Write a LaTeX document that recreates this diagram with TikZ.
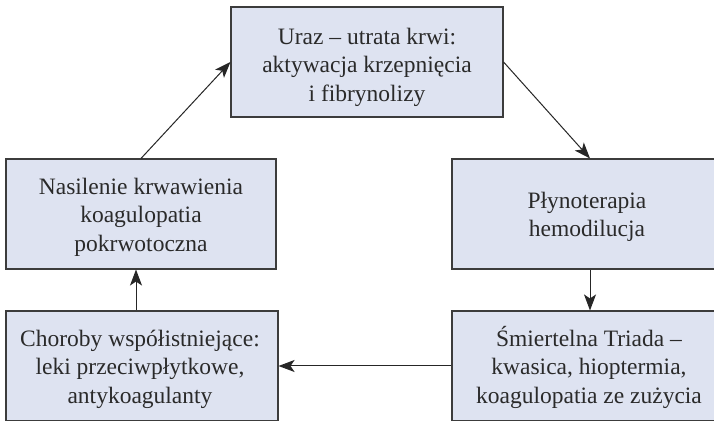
\documentclass[tikz,border=0pt]{standalone}
\usepackage{fontspec}
\setmainfont{Liberation Serif}
\usetikzlibrary{arrows.meta}
\definecolor{boxfill}{HTML}{DEE3F1}
\definecolor{boxline}{HTML}{3C3C3C}
\definecolor{txt}{HTML}{2A2A2A}
\tikzset{
  box/.style={draw=boxline, line width=1.1pt, fill=boxfill, minimum width=272pt, minimum height=110pt,
    inner sep=0pt},
  lbl/.style={inner sep=0pt, align=center, text=txt, font=\fontsize{23.5}{28.5}\selectfont},
  conn/.style={draw=black!85, line width=1pt, -{Stealth[length=16pt,width=12pt,inset=4pt]}}
}
\begin{document}
\begin{tikzpicture}[x=1pt,y=1pt]
\useasboundingbox (0,0) rectangle (714,420);
\clip (0,0) rectangle (714,420);
\fill[white] (0,0) rectangle (714,420);
\node[box] (top) at (367,358) {};
\node[box, minimum width=270pt] (leftmid) at (141,206) {};
\node[box, minimum width=276pt] (rightmid) at (590,206) {};
\node[box] (botleft) at (142,54) {};
\node[box, minimum width=276pt] (botright) at (590,54) {};
\node[lbl] (topt) at ([yshift=-5pt]top.center) {Uraz – utrata krwi:\\aktywacja krzepnięcia\\i fibrynolizy};
\node[lbl] (leftmidt) at ([yshift=-3pt]leftmid.center) {Nasilenie krwawienia\\koagulopatia\\pokrwotoczna};
\node[lbl] (rightmidt) at ([xshift=-3pt,yshift=-3pt]rightmid.center) {Płynoterapia\\hemodilucja};
\node[lbl] (botleftt) at ([xshift=-2pt,yshift=-3pt]botleft.center) {Choroby współistniejące:\\leki przeciwpłytkowe,\\antykoagulanty};
\node[lbl] (botrightt) at ([xshift=-1pt,yshift=-1pt]botright.center) {Śmiertelna Triada –\\kwasica, hioptermia,\\koagulopatia ze zużycia};
\draw[conn] (leftmid.north) -- (top.west);
\draw[conn] (top.east) -- (rightmid.north);
\draw[conn] (rightmid.south) -- (botright.north);
\draw[conn] (botright.west) -- (botleft.east);
\draw[conn] ([xshift=-6pt]botleft.north) -- ([xshift=-5pt]leftmid.south);
\end{tikzpicture}
\end{document}
